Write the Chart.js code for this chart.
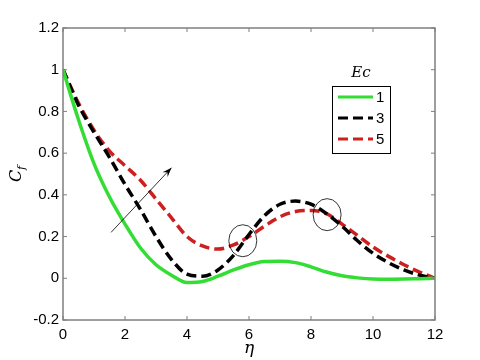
<!DOCTYPE html>
<html>
<head>
<meta charset="utf-8">
<script src="https://cdn.jsdelivr.net/npm/chart.js@4.4.0/dist/chart.umd.min.js"></script>
<style>
body { margin: 0; background: #fff; }
canvas { display: block; }
</style>
</head>
<body>
<canvas id="lineChart" width="480" height="360"></canvas>
<script>
// eta values (x) and C_f for each Ec
var eta = [0, 0.5, 1, 1.5, 2, 2.5, 3, 3.5, 4, 4.5, 5, 5.5, 6, 6.5, 7, 7.5, 8, 8.5, 9, 9.5, 10, 10.5, 11, 11.5, 12];
var ec1 = [1.00, 0.76, 0.55, 0.39, 0.26, 0.145, 0.065, 0.015, -0.02, -0.015, 0.01, 0.04, 0.065, 0.08, 0.082, 0.075, 0.055, 0.03, 0.012, 0.002, -0.004, -0.005, -0.004, -0.002, 0];
var ec3 = [1.00, 0.83, 0.70, 0.58, 0.45, 0.33, 0.20, 0.09, 0.02, 0.01, 0.04, 0.11, 0.21, 0.30, 0.355, 0.37, 0.355, 0.31, 0.25, 0.18, 0.12, 0.075, 0.04, 0.015, 0];
var ec5 = [1.00, 0.84, 0.71, 0.61, 0.54, 0.47, 0.38, 0.29, 0.20, 0.155, 0.14, 0.16, 0.20, 0.25, 0.295, 0.32, 0.325, 0.31, 0.26, 0.205, 0.15, 0.105, 0.065, 0.03, 0];
var seriesLabels = ["1", "3", "5"];
var xTicks = [0, 2, 4, 6, 8, 10, 12];
var yTicks = [-0.2, 0, 0.2, 0.4, 0.6, 0.8, 1, 1.2];

// annotations in data units
var arrowFrom = [1.55, 0.22];
var arrowTo = [3.5, 0.53];
var circles = [[5.8, 0.18], [8.52, 0.305]];

var axisGray = '#7f7f7f';
var tickFont = '15px "Liberation Sans", Arial, sans-serif';

function pts(ys) {
  return eta.map(function (x, i) { return { x: x, y: ys[i] }; });
}
function fmt(v) {
  return String(Number(v.toFixed(1)));
}

var decor = {
  id: 'decor',
  afterDraw: function (chart) {
    var c = chart.ctx, a = chart.chartArea;
    var xs = chart.scales.x, ys = chart.scales.y;
    c.save();
    // box + inward ticks
    c.strokeStyle = axisGray;
    c.lineWidth = 1.5;
    c.strokeRect(a.left, a.top, a.right - a.left, a.bottom - a.top);
    c.lineWidth = 1;
    xTicks.forEach(function (v) {
      var px = xs.getPixelForValue(v);
      c.beginPath();
      c.moveTo(px, a.bottom); c.lineTo(px, a.bottom - 4);
      c.moveTo(px, a.top); c.lineTo(px, a.top + 4);
      c.stroke();
    });
    yTicks.forEach(function (v) {
      var py = ys.getPixelForValue(v);
      c.beginPath();
      c.moveTo(a.left, py); c.lineTo(a.left + 4, py);
      c.moveTo(a.right, py); c.lineTo(a.right - 4, py);
      c.stroke();
    });

    // arrow
    var x0 = xs.getPixelForValue(arrowFrom[0]), y0 = ys.getPixelForValue(arrowFrom[1]);
    var x1 = xs.getPixelForValue(arrowTo[0]), y1 = ys.getPixelForValue(arrowTo[1]);
    c.strokeStyle = '#000';
    c.fillStyle = '#000';
    c.lineWidth = 0.8;
    c.beginPath(); c.moveTo(x0, y0); c.lineTo(x1, y1); c.stroke();
    var ang = Math.atan2(y1 - y0, x1 - x0);
    c.beginPath();
    c.moveTo(x1, y1);
    c.lineTo(x1 - 10 * Math.cos(ang - 0.35), y1 - 10 * Math.sin(ang - 0.35));
    c.lineTo(x1 - 6 * Math.cos(ang), y1 - 6 * Math.sin(ang));
    c.lineTo(x1 - 10 * Math.cos(ang + 0.35), y1 - 10 * Math.sin(ang + 0.35));
    c.closePath();
    c.fill();

    // circles
    circles.forEach(function (p) {
      c.beginPath();
      c.ellipse(xs.getPixelForValue(p[0]), ys.getPixelForValue(p[1]), 14, 16, 0, 0, Math.PI * 2);
      c.stroke();
    });

    // legend
    var lx = a.right - 103, ly = a.top + 58;
    c.fillStyle = '#000';
    c.font = 'italic 15px "DejaVu Serif", serif';
    c.textAlign = 'center';
    c.textBaseline = 'middle';
    c.fillText('Ec', lx + 29, ly - 13);
    c.fillStyle = '#fff';
    c.fillRect(lx, ly, 58, 67);
    c.strokeStyle = '#000';
    c.lineWidth = 1;
    c.strokeRect(lx + 0.5, ly + 0.5, 58, 67);
    chart.data.datasets.forEach(function (ds, i) {
      var ry = ly + 11 + i * 21;
      c.strokeStyle = ds.borderColor;
      c.lineWidth = 3;
      c.setLineDash(ds.borderDash || []);
      c.beginPath(); c.moveTo(lx + 6, ry); c.lineTo(lx + 41, ry); c.stroke();
      c.setLineDash([]);
      c.fillStyle = '#000';
      c.font = tickFont;
      c.textAlign = 'left';
      c.fillText(ds.label, lx + 44, ry + 1);
    });

    // axis titles
    c.fillStyle = '#000';
    c.font = 'italic 17px "DejaVu Serif", serif';
    c.textAlign = 'center';
    c.fillText('\u03b7', (a.left + a.right) / 2, 349);
    c.translate(17, (a.top + a.bottom) / 2);
    c.rotate(-Math.PI / 2);
    c.textAlign = 'left';
    c.font = 'italic 16px "DejaVu Serif", serif';
    c.fillText('C', -8, 0);
    c.font = 'italic 11px "DejaVu Serif", serif';
    c.fillText('f', 4, 5);
    c.restore();
  }
};

var ctxL = document.getElementById("lineChart").getContext('2d');
var myLineChart = new Chart(ctxL, {
  type: 'line',
  data: {
    datasets: [{
      label: seriesLabels[0],
      data: pts(ec1),
      borderColor: '#33dd33',
      borderWidth: 3.5
    },
    {
      label: seriesLabels[1],
      data: pts(ec3),
      borderColor: '#000000',
      borderDash: [10, 5],
      borderWidth: 3.5
    },
    {
      label: seriesLabels[2],
      data: pts(ec5),
      borderColor: '#cc2020',
      borderDash: [10, 5],
      borderWidth: 3.5
    }]
  },
  options: {
    responsive: false,
    animation: false,
    cubicInterpolationMode: 'monotone',
    pointRadius: 0,
    layout: { padding: { top: 28, right: 45, left: 0, bottom: 0 } },
    plugins: { legend: { display: false }, tooltip: { enabled: false } },
    scales: {
      x: {
        type: 'linear', min: 0, max: 12,
        grid: { display: false, drawTicks: false },
        border: { display: false },
        afterBuildTicks: function (s) { s.ticks = xTicks.map(function (v) { return { value: v }; }); },
        afterFit: function (s) { s.height = 40; },
        ticks: { padding: 6, color: '#000', font: { family: '"Liberation Sans", Arial, sans-serif', size: 15 }, callback: function (v) { return fmt(v); } }
      },
      y: {
        min: -0.2, max: 1.2,
        grid: { display: false, drawTicks: false },
        border: { display: false },
        afterBuildTicks: function (s) { s.ticks = yTicks.map(function (v) { return { value: v }; }); },
        afterFit: function (s) { s.width = 63; },
        ticks: { padding: 4, color: '#000', font: { family: '"Liberation Sans", Arial, sans-serif', size: 15 }, callback: function (v) { return fmt(v); } }
      }
    }
  },
  plugins: [decor]
});
</script>
</body>
</html>
